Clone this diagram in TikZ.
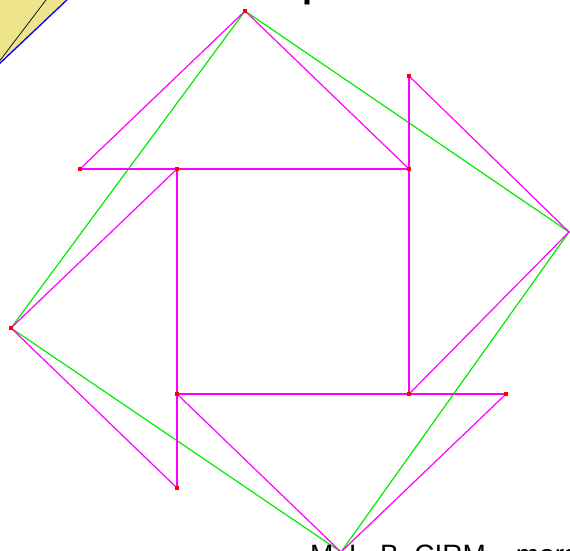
\documentclass[tikz,border=0pt]{standalone}
\usepackage{fontspec}
\setmainfont{Liberation Sans}
\begin{document}
\begin{tikzpicture}[x=1pt,y=-1pt,
  mag/.style={draw={rgb,255:red,255;green,0;blue,255},line width=1.2pt},
  grn/.style={draw={rgb,255:red,0;green,235;blue,0},line width=1.2pt},
  pt/.style={fill=red,inner sep=0pt,minimum size=4pt,draw=none}]
\useasboundingbox (0,0) rectangle (570,551);
\begin{scope}
\clip (0,0) rectangle (570,551);
% yellow corner
\fill[fill={rgb,255:red,238;green,228;blue,140}] (-5,-5) -- (-5,64) -- (0,64) -- (67,0) -- (67,-5) -- cycle;
\draw[black,line width=0.7pt] (-5,67) -- (46,0) -- (48,-3);
\draw[blue,line width=1.3pt] (-3,66) -- (70,-3);
% coordinates
\coordinate (T) at (245,11);
\coordinate (R) at (569,232);
\coordinate (B) at (341,552);
\coordinate (L) at (11,328);
\coordinate (A) at (177,169);
\coordinate (Bq) at (409,169);
\coordinate (C) at (409,394);
\coordinate (D) at (177,394);
\coordinate (E1) at (80,169);
\coordinate (E2) at (409,76);
\coordinate (E3) at (506,394);
\coordinate (E4) at (177,488);
% green quadrilateral
\draw[grn] (T) -- (R) -- (B) -- (L) -- cycle;
% magenta triangles and sides
\draw[mag] (E1) -- (T) -- (Bq);
\draw[mag] (E1) -- (Bq);
\draw[mag] (E2) -- (R) -- (C);
\draw[mag] (E2) -- (C);
\draw[mag] (E3) -- (B) -- (D);
\draw[mag] (D) -- (E3);
\draw[mag] (E4) -- (L) -- (A);
\draw[mag] (A) -- (E4);
% points
\foreach \p in {T,L,A,Bq,C,D,E1,E2,E3,E4}
  \node[pt] (n\p) at (\p) {};
% texts
\node[anchor=base west,inner sep=0pt,font=\fontsize{36}{38}\selectfont\bfseries] (ttl) at (302.5,-2.5) {p};
\node[anchor=base west,inner sep=0pt,font=\fontsize{28}{30}\selectfont] (foot) at (310,564) {M. L. B. CIRM\hspace{30pt}mars};
\end{scope}
\end{tikzpicture}
\end{document}
